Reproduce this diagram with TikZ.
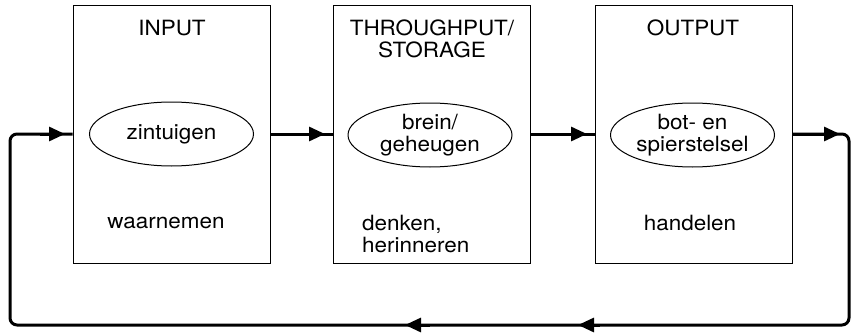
\documentclass[tikz,border=0pt]{standalone}
\usepackage{fontspec}
\setmainfont[FakeStretch=1.07]{TeX Gyre Heros}
\usetikzlibrary{arrows.meta,shapes.geometric}
\begin{document}
\begin{tikzpicture}[x=1pt,y=-1pt,
  blockbox/.style={draw,line width=1pt,minimum width=197pt,minimum height=258pt,inner sep=0pt},
  organ/.style={draw,ellipse,line width=1pt,minimum width=164pt,minimum height=64pt,inner sep=0pt,align=center,font=\fontsize{21}{22}\selectfont},
  lbl/.style={align=center,font=\fontsize{21}{22}\selectfont,inner sep=0pt},
  flow/.style={line width=3pt,-{Triangle[length=16pt,width=14pt]}},
  plainflow/.style={line width=3pt,rounded corners=7pt}]
\useasboundingbox (0,0) rectangle (851,332);
% boxes
\node[blockbox] (b1) at (171.5,134) {};
\node[blockbox] (b2) at (431.5,134) {};
\node[blockbox] (b3) at (693.5,134) {};
% ellipses
\node[organ] (e1) at (171.5,134) {zintuigen};
\node[organ] (e2) at (430,135) {brein/\\geheugen};
\node[organ] (e3) at (692.5,135) {bot- en\\spierstelsel};
% titles
\node[lbl,anchor=north] (t1) at (172,20) {INPUT};
\node[lbl,anchor=north] (t2) at (432,20) {THROUGHPUT/\\STORAGE};
\node[lbl,anchor=north] (t3) at (693,20) {OUTPUT};
% activities
\node[lbl] (a1) at (166,223) {waarnemen};
\node[lbl,anchor=west,align=left] (a2) at (362,234) {denken,\\herinneren};
\node[lbl] (a3) at (690,223) {handelen};
% arrow tip points and loop corners
\coordinate (f1) at (325,134);
\coordinate (f2) at (587,134);
\coordinate (r1) at (840,134);
\coordinate (c1) at (849,134);
\coordinate (c2) at (849,325);
\coordinate (r2pre) at (600,325);
\coordinate (r2) at (578,325);
\coordinate (r3pre) at (430,325);
\coordinate (r3) at (405,325);
\coordinate (c3) at (10,325);
\coordinate (c4) at (10,134);
\coordinate (f0pre) at (40,134);
\coordinate (f0) at (65,134);
% forward connectors
\draw[plainflow] (b1.east |- f1) -- (b2.west |- f1);
\draw[flow] (b1.east |- f1) -- (f1);
\draw[plainflow] (b2.east |- f2) -- (b3.west |- f2);
\draw[flow] (b2.east |- f2) -- (f2);
% feedback loop
\draw[plainflow] (b3.east |- r1) -- (c1) -- (c2) -- (c3) -- (c4) -- (b1.west |- f0);
\draw[flow] (b3.east |- r1) -- (r1);
\draw[flow] (r2pre) -- (r2);
\draw[flow] (r3pre) -- (r3);
\draw[flow] (f0pre) -- (f0);
\end{tikzpicture}
\end{document}
